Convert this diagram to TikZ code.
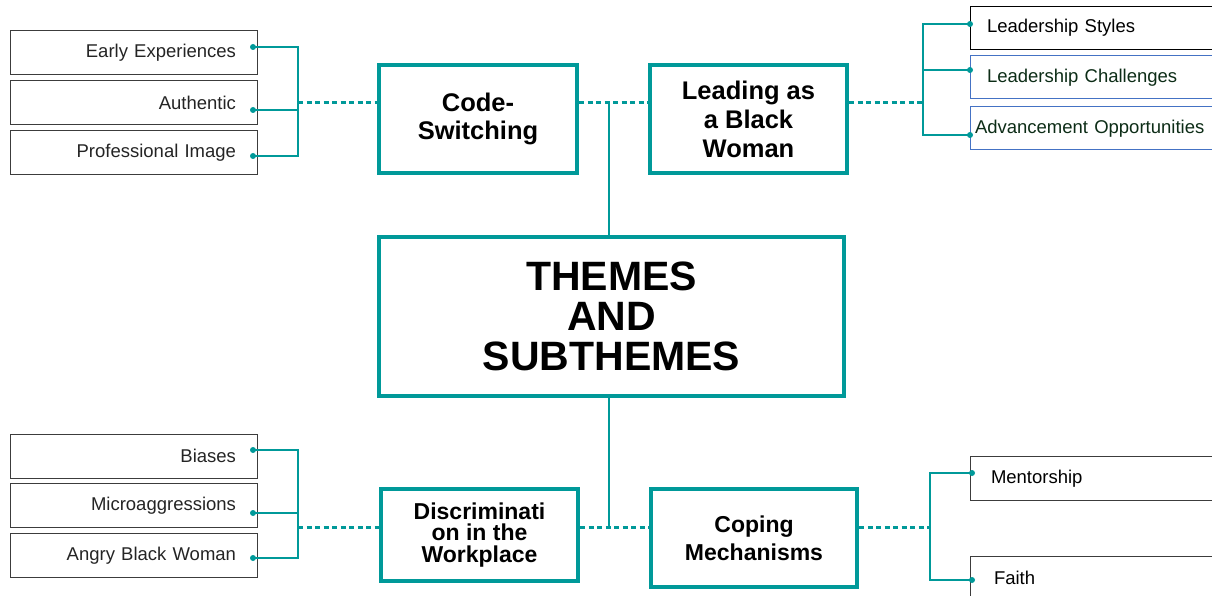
\documentclass[tikz,border=0pt]{standalone}
\usepackage{fontspec}
\setmainfont{Liberation Sans}
\definecolor{themeteal}{RGB}{0,153,153}
\definecolor{leafgray}{RGB}{60,60,60}
\definecolor{leafblue}{RGB}{68,114,196}
\definecolor{leafgreen}{RGB}{12,44,22}
\begin{document}
\begin{tikzpicture}[x=1pt, y=-1pt,
  theme/.style={draw=themeteal, line width=4pt, fill=white, align=center, inner sep=0pt},
  leafL/.style={draw=leafgray, line width=1pt, text=leafgray!60!black, align=right,
    text width=205pt, inner xsep=21pt, inner ysep=0pt, minimum height=44pt,
    font=\fontsize{18.5}{20}\selectfont},
  leafR/.style={draw=black, line width=1pt, align=left,
    text width=208pt, inner xsep=17pt, inner ysep=0pt, minimum height=43pt,
    font=\fontsize{18.5}{20}\selectfont},
  branch/.style={draw=themeteal, line width=2pt},
  dotline/.style={draw=themeteal, line width=3pt, dash pattern=on 5pt off 3.5pt},
  dot/.style={circle, fill=themeteal, inner sep=0pt, minimum size=6pt}]
\useasboundingbox (0,0) rectangle (1212,596);

% forks and joins
\coordinate (cs-fork) at (298,103);
\coordinate (lb-fork) at (923,103);
\coordinate (dw-fork) at (298,527);
\coordinate (cm-fork) at (930,527);
\coordinate (top-join) at (609,103);
\coordinate (bot-join) at (609,527);

% main themes
\node[theme, minimum width=465pt, minimum height=159pt,
  font=\fontsize{41}{40}\selectfont\bfseries] (themes) at (611.5,316.5) {THEMES\\AND\\SUBTHEMES};
\node[theme, minimum width=198pt, minimum height=108pt,
  font=\fontsize{25.5}{28.5}\selectfont\bfseries] (code) at (478,119) {Code-\\Switching};
\node[theme, minimum width=197pt, minimum height=108pt,
  font=\fontsize{25.5}{29}\selectfont\bfseries] (lead) at (748.5,119) {Leading as\\a Black\\Woman};
\node[theme, minimum width=197pt, minimum height=92pt,
  font=\fontsize{23}{21.5}\selectfont\bfseries] (disc) at (479.5,535) {Discriminati\\on in the\\Workplace};
\node[theme, minimum width=206pt, minimum height=98pt,
  font=\fontsize{23}{28}\selectfont\bfseries] (cope) at (754,538) {Coping\\Mechanisms};

% subthemes, left
\node[leafL] (early) at (133.5,53) {Early Experiences};
\node[leafL] (auth) at (133.5,103) {Authentic};
\node[leafL] (prof) at (133.5,153) {Professional Image};
\node[leafL] (bias) at (133.5,456) {Biases};
\node[leafL] (micro) at (133.5,505.5) {Microaggressions};
\node[leafL] (angry) at (133.5,555.5) {Angry Black Woman};

% subthemes, right
\node[leafR] (styles) at (1091,28) {Leadership Styles};
\node[leafR, draw=leafblue, text=leafgreen] (chall) at (1091,77.5) {Leadership Challenges};
\node[leafR, draw=leafblue, text=leafgreen, text width=232pt, inner xsep=5pt] (adv) at (1091,128.5) {Advancement Opportunities};
\node[leafR, draw=leafgray, minimum height=44pt, inner xsep=21pt, text width=204pt] (ment) at (1093,478.5) {Mentorship};
\node[leafR, draw=leafgray, minimum height=44pt, inner xsep=24pt, text width=198pt] (faith) at (1093,578) {Faith};

% end dots
\node[dot] (early-dot) at (253,47) {};
\node[dot] (auth-dot) at (253,110) {};
\node[dot] (prof-dot) at (253,156) {};
\node[dot] (bias-dot) at (253,450) {};
\node[dot] (micro-dot) at (253,513) {};
\node[dot] (angry-dot) at (253,558) {};
\node[dot] (styles-dot) at (970,24) {};
\node[dot] (chall-dot) at (970,70) {};
\node[dot] (adv-dot) at (970,135) {};
\node[dot] (ment-dot) at (972,473) {};
\node[dot] (faith-dot) at (972,580) {};

% brackets
\draw[branch] (early-dot.center) -- (early-dot -| cs-fork) -- (prof-dot -| cs-fork) -- (prof-dot.center);
\draw[branch, line width=1.3pt] (auth-dot.center) -- (auth-dot -| cs-fork);
\draw[branch] (bias-dot.center) -- (bias-dot -| dw-fork) -- (angry-dot -| dw-fork) -- (angry-dot.center);
\draw[branch, line width=1.3pt] (micro-dot.center) -- (micro-dot -| dw-fork);
\draw[branch] (styles-dot.center) -- (styles-dot -| lb-fork) -- (adv-dot -| lb-fork) -- (adv-dot.center);
\draw[branch] (chall-dot.center) -- (chall-dot -| lb-fork);
\draw[branch] (ment-dot.center) -- (ment-dot -| cm-fork) -- (faith-dot -| cm-fork) -- (faith-dot.center);

% dotted links
\draw[dotline] (cs-fork) -- (cs-fork -| code.west);
\draw[dotline] (code.east |- top-join) -- (lead.west |- top-join);
\draw[dotline] (lead.east |- lb-fork) -- (lb-fork);
\draw[dotline] (dw-fork) -- (dw-fork -| disc.west);
\draw[dotline] (disc.east |- bot-join) -- (cope.west |- bot-join);
\draw[dotline] (cope.east |- cm-fork) -- (cm-fork);

% trunk
\draw[branch] (top-join) -- (top-join |- themes.north);
\draw[branch] (bot-join) -- (bot-join |- themes.south);

\end{tikzpicture}
\end{document}
